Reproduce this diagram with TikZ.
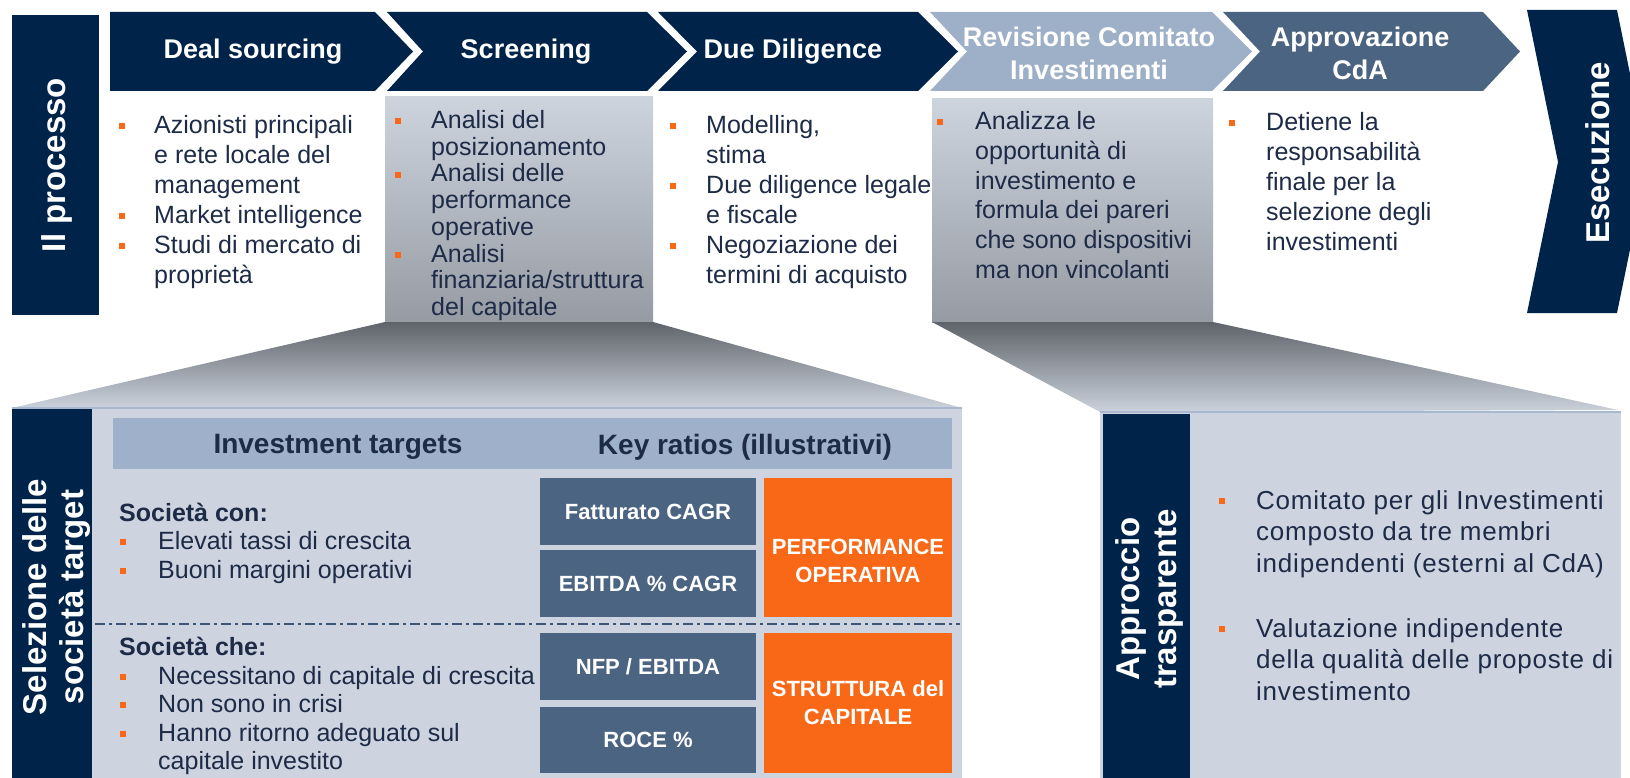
\documentclass[tikz,border=0pt]{standalone}
\usepackage{fontspec}
\setmainfont{Liberation Sans}
\definecolor{navy}{HTML}{00234A}
\definecolor{revc}{HTML}{9EAFC8}
\definecolor{slate}{HTML}{4B6482}
\definecolor{orng}{HTML}{F96816}
\definecolor{pale}{HTML}{CDD4DF}
\definecolor{band}{HTML}{9FB1CA}
\definecolor{txtc}{HTML}{1D2B47}
\definecolor{edgec}{HTML}{A8B8CF}
\definecolor{gtop}{HTML}{CDD4DE}
\definecolor{gbot}{HTML}{969BA3}
\definecolor{ttop}{HTML}{5F636A}
\definecolor{tbot}{HTML}{CBD2DC}
\definecolor{dashc}{HTML}{3B5677}
\begin{document}
\begin{tikzpicture}[x=1pt,y=-1pt,
  txt/.style={anchor=west,inner sep=0pt,text=txtc,font=\fontsize{25}{30}\selectfont,text height=18pt,text depth=5pt},
  rtxt/.style={anchor=west,inner sep=0pt,text=txtc,font=\fontsize{26}{31}\selectfont\addfontfeatures{LetterSpace=3},text height=19pt,text depth=5pt},
  btxt/.style={anchor=west,inner sep=0pt,text=txtc,font=\bfseries\fontsize{25}{30}\selectfont,text height=18pt,text depth=5pt},
  bul/.style={fill=orng,minimum size=6.5pt,inner sep=0pt},
  chevtitle/.style={text=white,inner sep=0pt,font=\bfseries\fontsize{27}{33}\selectfont,align=center},
  rottitle/.style={text=white,inner sep=0pt,rotate=90,font=\bfseries\fontsize{33}{37}\selectfont,align=center},
  headtxt/.style={text=txtc,inner sep=0pt,font=\bfseries\fontsize{28}{30}\selectfont},
  ratiotxt/.style={text=white,inner sep=0pt,font=\bfseries\fontsize{22}{28}\selectfont,align=center},
  dashline/.style={draw=dashc,line width=2.2pt,dash pattern=on 10pt off 4pt on 3pt off 4pt}
]
\clip (0,0) rectangle (1630,778);
\fill[white] (0,0) rectangle (1630,778);

% ---------- top process ----------
\fill[navy] (12,15) rectangle (99,315);
\node[rottitle] (proc) at (57,165) {Il processo};

\fill[navy] (110,12) -- (375,12) -- (413,51.5) -- (375,91) -- (110,91) -- cycle;
\fill[navy] (387,12) -- (647,12) -- (687,51.5) -- (647,91) -- (387,91) -- (423,51.5) -- cycle;
\fill[navy] (658,12) -- (918,12) -- (958,51.5) -- (918,91) -- (658,91) -- (697,51.5) -- cycle;
\fill[revc] (930,12) -- (1212,12) -- (1252,51.5) -- (1212,91) -- (930,91) -- (967,51.5) -- cycle;
\fill[slate] (1223,12) -- (1483,12) -- (1520,51.5) -- (1483,91) -- (1223,91) -- (1260,51.5) -- cycle;
\fill[navy] (1527,10) -- (1617,10) -- (1648,162) -- (1617,313) -- (1527,313) -- (1558,162) -- cycle;

\node[chevtitle] (c1) at (253,52) {Deal sourcing};
\node[chevtitle] (c2) at (526,52) {Screening};
\node[chevtitle] (c3) at (793,52) {Due Diligence};
\node[chevtitle] (c4) at (1089,53) {Revisione Comitato\\Investimenti};
\node[chevtitle] (c5) at (1360,53) {Approvazione\\CdA};
\node[rottitle] (c6) at (1598,153) {Esecuzione};

% grey panels under Screening and Revisione
\shade[top color=gtop,bottom color=gbot] (385,97) rectangle (653,322);
\shade[top color=gtop,bottom color=gbot] (932,99) rectangle (1213,322);

% funnels
\shade[top color=ttop,bottom color=tbot] (385,322) -- (653,322) -- (962,408) -- (12,408) -- cycle;
\shade[top color=ttop,bottom color=tbot] (932,322) -- (1213,322) -- (1618,410) -- (1100,412) -- cycle;

% top texts
\foreach \t [count=\i] in {Azionisti principali,e rete locale del,management,Market intelligence,Studi di mercato di,proprietà}
  \node[txt] (ds\i) at (154,{127+30*(\i-1)}) {\t};
\foreach \y [count=\i] in {126,216,246}
  \node[bul] (dsb\i) at (122,\y) {};

\foreach \t [count=\i] in {Analisi del,posizionamento,Analisi delle,performance,operative,Analisi,finanziaria/struttura,del capitale}
  \node[txt] (sc\i) at (431,{122+26.7*(\i-1)}) {\t};
\foreach \y [count=\i] in {121,175,255}
  \node[bul] (scb\i) at (398,\y) {};

\foreach \t [count=\i] in {{Modelling,},stima,Due diligence legale,e fiscale,Negoziazione dei,termini di acquisto}
  \node[txt] (dd\i) at (706,{127+30*(\i-1)}) {\t};
\foreach \y [count=\i] in {126,186,246}
  \node[bul] (ddb\i) at (673,\y) {};

\foreach \t [count=\i] in {Analizza le,opportunità di,investimento e,formula dei pareri,che sono dispositivi,ma non vincolanti}
  \node[txt] (rv\i) at (975,{123+29.8*(\i-1)}) {\t};
\node[bul] (rvb1) at (940,122) {};

\foreach \t [count=\i] in {Detiene la,responsabilità,finale per la,selezione degli,investimenti}
  \node[txt] (ap\i) at (1266,{124+30*(\i-1)}) {\t};
\node[bul] (apb1) at (1232,123) {};

% ---------- lower left panel ----------
\fill[pale] (12,408) rectangle (962,778);
\draw[edgec,line width=2pt] (12,408) -- (962,408);
\fill[navy] (12,409) rectangle (92,778);
\node[rottitle] (sel) at (57,597) {Selezione delle\\società target};
\fill[band] (113,418) rectangle (952,469);
\node[headtxt] (h1) at (338,447) {Investment targets};
\node[headtxt] (h2) at (745,447) {Key ratios (illustrativi)};

\fill[slate] (540,478) rectangle (756,545);
\fill[slate] (540,550) rectangle (756,617);
\fill[orng] (764,478) rectangle (952,617);
\fill[slate] (540,633) rectangle (756,700);
\fill[slate] (540,707) rectangle (756,773);
\fill[orng] (764,633) rectangle (952,773);
\node[ratiotxt] (r1) at (648,512) {Fatturato CAGR};
\node[ratiotxt] (r2) at (648,584) {EBITDA \% CAGR};
\node[ratiotxt] (r3) at (858,561) {PERFORMANCE\\OPERATIVA};
\node[ratiotxt] (r4) at (648,667) {NFP / EBITDA};
\node[ratiotxt] (r5) at (648,740) {ROCE \%};
\node[ratiotxt] (r6) at (858,703) {STRUTTURA del\\CAPITALE};

\coordinate (dl1) at (95,624);
\coordinate (dl2) at (960,624);
\draw[dashline] (dl1) -- (dl2);

\node[btxt] (sc) at (119,515) {Società con:};
\node[txt] (sc1b) at (158,543) {Elevati tassi di crescita};
\node[txt] (sc2b) at (158,572) {Buoni margini operativi};
\node[bul] (lb1) at (123,542) {};
\node[bul] (lb2) at (123,571) {};
\node[btxt] (sh) at (119,649) {Società che:};
\foreach \t [count=\i] in {Necessitano di capitale di crescita,Non sono in crisi,Hanno ritorno adeguato sul,capitale investito}
  \node[txt] (sh\i) at (158,{678+28.4*(\i-1)}) {\t};
\foreach \y [count=\i] in {677,705,734}
  \node[bul] (shb\i) at (123,\y) {};

% ---------- lower right panel ----------
\fill[pale] (1100,412) rectangle (1621,778);
\draw[edgec,line width=2pt] (1100,412) -- (1621,412);
\fill[navy] (1103,414) rectangle (1190,778);
\node[rottitle] (app) at (1149,599) {Approccio\\trasparente};
\foreach \t [count=\i] in {Comitato per gli Investimenti,composto da tre membri,indipendenti (esterni al CdA)}
  \node[rtxt] (ra\i) at (1256,{502+31.5*(\i-1)}) {\t};
\foreach \t [count=\i] in {Valutazione indipendente,della qualità delle proposte di,investimento}
  \node[rtxt] (rb\i) at (1256,{630+31.5*(\i-1)}) {\t};
\node[bul] (rab) at (1222,501) {};
\node[bul] (rbb) at (1222,629) {};
\end{tikzpicture}
\end{document}
